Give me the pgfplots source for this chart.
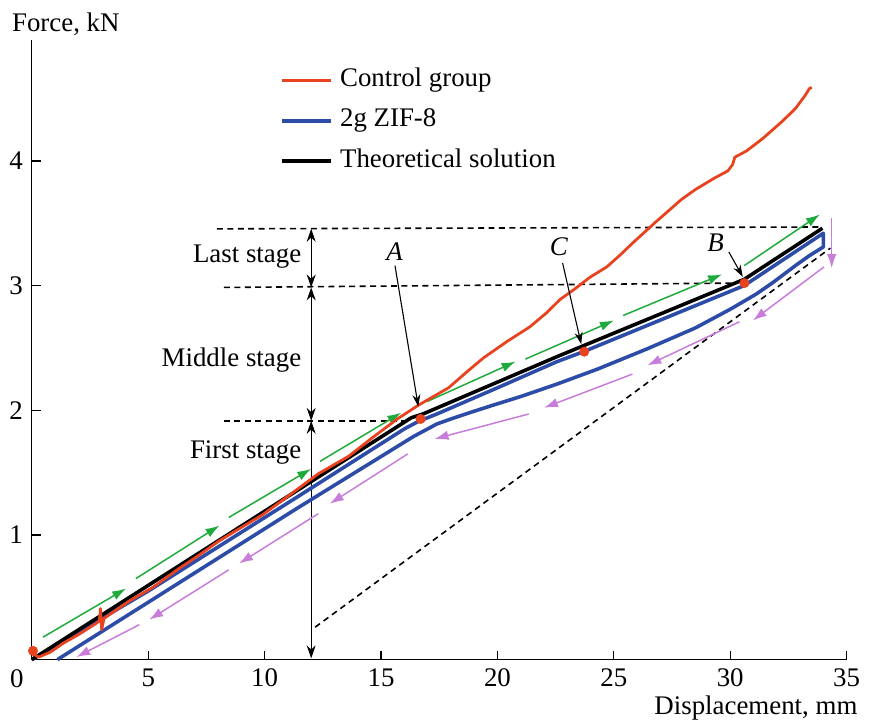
\documentclass[border=0pt]{standalone}
\usepackage{pgfplots}
\pgfplotsset{compat=1.18}
\usepackage{fontspec}
\setmainfont{Liberation Serif}
\usetikzlibrary{arrows.meta}
\definecolor{cred}{HTML}{E8431E}
\definecolor{cblue}{HTML}{2D4CA8}
\definecolor{cgreen}{HTML}{1FAA3C}
\definecolor{cpink}{HTML}{C87DDB}
\begin{document}
\fontsize{27}{32}\selectfont
\begin{tikzpicture}
\path (-32pt,-62pt) rectangle (837pt,663pt);
\begin{axis}[
  scale only axis, width=819pt, height=622.8pt,
  xmin=0, xmax=35, ymin=0, ymax=4.97,
  axis lines=left, axis line style={-, line width=1.2pt},
  xtick={0,5,...,35}, xticklabels={,5,10,15,20,25,30,35},
  ytick={1,2,3,4}, yticklabels={1,2,3,4},
  tick align=inside, major tick length=9pt, tick style={line width=1.2pt, black},
  clip=false,
  legend style={draw=none, fill=none, at={(axis cs:10.55,4.82)}, anchor=north west,
    nodes={text height=0.7em, text depth=0.25em, inner sep=7.3pt}},
  legend cell align=left,
  legend image code/.code={\draw[#1] (0pt,0pt) -- (49pt,0pt);},
  gr/.style={cgreen, line width=1.5pt, -{Latex[length=14pt,width=9.5pt]}, forget plot},
  pk/.style={cpink, line width=1.5pt, -{Latex[length=14pt,width=9.5pt]}, forget plot},
  dsh/.style={black, line width=1.6pt, dash pattern=on 6pt off 4.5pt, forget plot},
  ann/.style={black, line width=1.1pt, -{Stealth[length=12pt,width=8pt]}, forget plot},
  dbl/.style={black, line width=1.1pt, {Stealth[length=13pt,width=9pt]}-{Stealth[length=13pt,width=9pt]}, forget plot},
]
\addlegendimage{cred, line width=3pt}
\addlegendentry{Control group}
\addlegendimage{cblue, line width=3.5pt}
\addlegendentry{2g ZIF-8}
\addlegendimage{black, line width=3.5pt}
\addlegendentry{Theoretical solution}

% dashed guide lines
\addplot[dsh] coordinates {(7.95,3.455) (33.96,3.47)};
\addplot[dsh] coordinates {(8.25,2.985) (30.2,3.02)};
\addplot[dsh] coordinates {(8.25,1.915) (16.15,1.915)};
\addplot[dsh] coordinates {(12.17,0.26) (34.3,3.30)};

% stage double arrows
\addplot[dbl] coordinates {(12.0,3.455) (12.0,2.985)};
\addplot[dbl] coordinates {(12.0,2.985) (12.0,1.915)};
\addplot[dbl] coordinates {(12.0,1.915) (12.0,0.01)};

% green loading arrows
\addplot[gr] coordinates {(0.48,0.18) (4.05,0.57)};
\addplot[gr] coordinates {(4.47,0.65) (8.06,1.075)};
\addplot[gr] coordinates {(8.46,1.14) (12.0,1.53)};
\addplot[gr] coordinates {(12.38,1.59) (15.87,1.98)};
\addplot[gr] coordinates {(16.98,2.07) (20.78,2.39)};
\addplot[gr] coordinates {(21.2,2.41) (25.0,2.72)};
\addplot[gr] coordinates {(25.4,2.76) (29.65,3.09)};
\addplot[gr] coordinates {(30.6,3.16) (33.85,3.57)};

% pink unloading arrows
\addplot[pk] coordinates {(34.36,3.54) (34.36,3.14)};
\addplot[pk] coordinates {(34.03,3.15) (30.97,2.72)};
\addplot[pk] coordinates {(30.4,2.71) (26.44,2.36)};
\addplot[pk] coordinates {(25.8,2.29) (22.0,2.02)};
\addplot[pk] coordinates {(21.35,1.97) (17.3,1.77)};
\addplot[pk] coordinates {(16.15,1.65) (12.8,1.25)};
\addplot[pk] coordinates {(12.3,1.17) (8.9,0.77)};
\addplot[pk] coordinates {(8.46,0.72) (5.04,0.32)};
\addplot[pk] coordinates {(4.62,0.28) (1.91,0.02)};

% 2g ZIF-8 (loading and unloading)
\addplot[cblue, line width=3.6pt, line join=round, forget plot] coordinates {
(0,0) (5.0,0.55) (11.45,1.31) (16.0,1.85) (16.6,1.91) (17.4,1.97) (20.0,2.18) (22.56,2.39) (23.7,2.47)
(30.6,3.00) (34.0,3.42) (34.0,3.31) (33.4,3.24) (32.8,3.16) (31.8,3.02) (31.1,2.93) (30.0,2.81) (28.5,2.66) (26.4,2.49)
(24.3,2.33) (22.56,2.21) (21.0,2.11) (19.8,2.04) (18.8,1.98) (18.0,1.93) (17.4,1.89) (16.9,1.84) (16.4,1.79) (11.45,1.22) (1.1,0)};

% theoretical solution
\addplot[black, line width=3.6pt, line join=round, forget plot] coordinates {
(0,0) (16.3,1.94) (16.8,1.97) (22.56,2.43) (30.6,3.05) (33.96,3.46)};

% control group
\addplot[cred, line width=2.8pt, line join=round, forget plot] coordinates {
(0.0,0.10) (0.1,0.04) (0.3,0.02) (0.8,0.06) (1.34,0.13) (2.0,0.20) (2.76,0.29) (2.9,0.31)
(2.95,0.41) (3.0,0.24) (3.1,0.33) (4.19,0.47) (5.2,0.58) (6.32,0.73) (7.2,0.84) (8.03,0.95)
(9.0,1.06) (9.9,1.16) (11.0,1.31) (12.3,1.49) (13.6,1.63) (14.7,1.79) (15.7,1.93) (16.6,2.04)
(17.9,2.18) (18.7,2.31) (19.4,2.42) (20.4,2.55) (21.4,2.67) (22.1,2.78) (22.7,2.89) (23.3,2.97)
(24.0,3.07) (24.7,3.15) (25.3,3.25) (25.8,3.34) (26.8,3.51) (27.9,3.69) (28.5,3.77) (29.3,3.86)
(29.9,3.92) (30.1,3.97) (30.2,4.03) (30.7,4.08) (31.4,4.18) (32.25,4.32) (32.8,4.42) (33.2,4.52)
(33.4,4.58) (33.5,4.59)};

% red points
\addplot[only marks, mark=*, mark size=4.8pt, cred, forget plot] coordinates {
(0.05,0.07) (16.7,1.93) (23.73,2.47) (30.61,3.02)};

% A, B, C pointers
\addplot[ann] coordinates {(15.6,3.16) (16.6,2.03)};
\addplot[ann] coordinates {(22.8,3.18) (23.6,2.53)};
\addplot[ann] coordinates {(29.94,3.27) (30.54,3.07)};

\node at (axis cs:15.58,3.27) {\itshape A};
\node at (axis cs:22.64,3.31) {\itshape C};
\node at (axis cs:29.37,3.34) {\itshape B};

\node[anchor=base east, inner sep=0pt] at (axis cs:11.58,3.184) {Last stage};
\node[anchor=base east, inner sep=0pt] at (axis cs:11.58,2.354) {Middle stage};
\node[anchor=base east, inner sep=0pt] at (axis cs:11.58,1.615) {First stage};

\node at (axis cs:-0.64,-0.152) {0};
\node[anchor=base west, inner sep=0pt] at (axis cs:-0.855,5.036) {Force, kN};
\node[anchor=base east, inner sep=0pt] at (axis cs:35.47,-0.439) {Displacement, mm};
\end{axis}
\end{tikzpicture}
\end{document}
